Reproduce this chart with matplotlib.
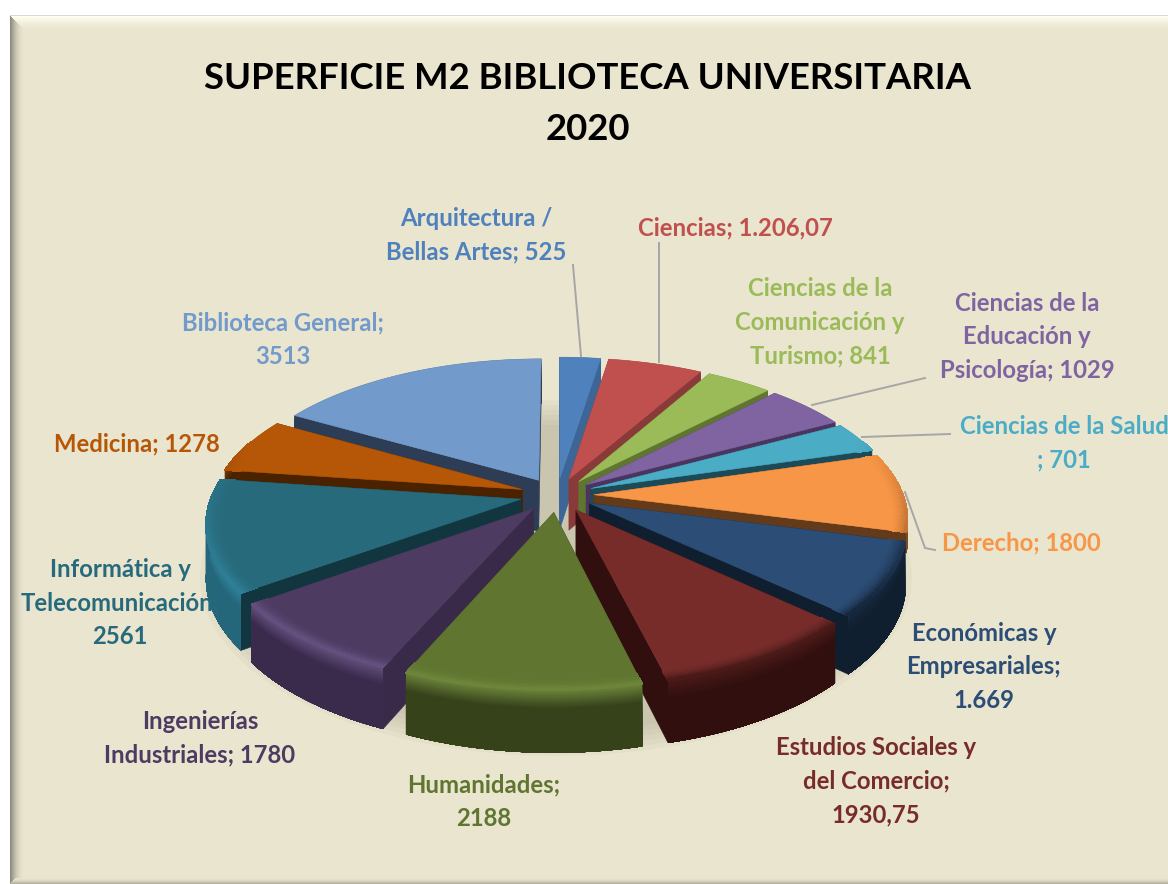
import numpy as np
import matplotlib
matplotlib.use('Agg')
import matplotlib.pyplot as plt
from matplotlib.collections import PolyCollection
from matplotlib.colors import to_rgb
from matplotlib.patches import Ellipse, Polygon

plt.rcParams['font.family'] = ['Lato', 'DejaVu Sans']

# Data
categories = ['Arquitectura', 'Ciencias', 'Comunicacion', 'Educacion', 'Salud', 'Derecho',
              'Economicas', 'Estudios', 'Humanidades', 'Ingenierias', 'Informatica',
              'Medicina', 'Biblioteca']
values = [525, 1206.07, 841, 1029, 701, 1800, 1669, 1930.75, 2188, 1780, 2561, 1278, 3513]
labels = ['Arquitectura /\nBellas Artes; 525', 'Ciencias; 1.206,07',
          'Ciencias de la\nComunicación y\nTurismo; 841',
          'Ciencias de la\nEducación y\nPsicología; 1029',
          'Ciencias de la Salud\n; 701', 'Derecho; 1800',
          'Económicas y\nEmpresariales;\n1.669',
          'Estudios Sociales y\ndel Comercio;\n1930,75', 'Humanidades;\n2188',
          'Ingenierías\nIndustriales; 1780', 'Informática y\nTelecomunicación;\n2561',
          'Medicina; 1278', 'Biblioteca General;\n3513']
title = 'SUPERFICIE M2 BIBLIOTECA UNIVERSITARIA\n2020'

# Colours: top face, radial wall, outer wall, rim
top_colors = ['#4F81BD', '#C0504D', '#9BBB59', '#8064A2', '#4BACC6', '#F79646', '#2C4D75',
              '#772C2A', '#5F7530', '#4D3B62', '#276A7C', '#B65708', '#729ACA']
radial_colors = ['#3D6596', '#8A3A38', '#5F7530', '#4A3560', '#1D4A57', '#633A1A', '#101F30',
                 '#300F0E', '#36421A', '#3A2A4A', '#123640', '#4B2200', '#2C3D55']
wall_colors = ['#3D6596', '#8A3A38', '#5F7530', '#4A3560', '#1D4A57', '#7A4A20', '#101F30',
               '#300F0E', '#36421A', '#3A2A4C', '#24667A', '#4B2200', '#2C3D55']
rim_colors = ['#3D6596', '#8A3A38', '#5F7530', '#4A3560', '#1D4A57', '#9C5A28', '#16283F',
              '#4A1A18', '#6D853B', '#64507E', '#2F8199', '#7A3C08', '#2C3D55']
text_colors = ['#4F81BD', '#C0504D', '#9BBB59', '#8064A2', '#4BACC6', '#F79646', '#2C4D75',
               '#772C2A', '#5F7530', '#4D3B62', '#276A7C', '#B65708', '#729ACA']
wall_depths = [52, 52, 52, 52, 52, 20, 52, 52, 52, 52, 52, 52, 52]
label_xy = [(476, 235), (735, 228), (820, 322), (1027, 337), (1064, 443), (1021, 543),
            (984, 667), (876, 781), (484, 802), (200, 738), (120, 603), (137, 444), (283, 340)]
leaders = [[(573, 265), (581, 356)], [(659, 243), (659, 362)], [(812, 405), (925, 378)],
           [(862, 437), (950, 434)], [(905, 492), (925, 548), (935, 550)]]

# Pie geometry, in pixels
W, H = 1168, 884
CX, CY = 557, 495
R, EXPLODE = 309, 37
TILT, F = 0.467, 2011
BEVEL = 16


def project(x, y, z=0):
    s = 1 / (1 + y / F)
    return CX + x * s, CY - TILT * y * s + z * s


def mix(c1, c2, t):
    return tuple(np.array(to_rgb(c1)) * (1 - t) + np.array(to_rgb(c2)) * t)


def point(theta, r, off, z=0):
    return project(r * np.sin(theta) + off[0], r * np.cos(theta) + off[1], z)


def draw_background(ax):
    img = np.ones((H, W, 3))
    base = np.array(to_rgb('#EAE5CF'))
    img[15:, 10:] = base
    for i in range(14):
        t = (1 - i / 14) ** 1.5
        img[16 + i, 10 + i:] = base * (1 - t) + np.array(to_rgb('#FFFEF0')) * t
    for i in range(14):
        t = (1 - i / 14) ** 2
        img[16 + i:, 10 + i] = base * (1 - t) + np.array(to_rgb('#8E8A7C')) * t
    for i in range(6):
        t = (1 - i / 6) ** 2
        img[H - 1 - i, 10 + i:] = base * (1 - t) + np.array(to_rgb('#B5B19F')) * t
    img[15, 10:] = to_rgb('#D9D9D9')
    ax.imshow(img, extent=(0, W, H, 0), aspect='auto', zorder=0, interpolation='nearest')


def draw_slice(ax, i, start, end, zorder):
    mid = (start + end) / 2
    depth = wall_depths[i]
    off = (EXPLODE * np.sin(mid), EXPLODE * np.cos(mid))
    thetas = np.linspace(start, end, max(int(np.degrees(end - start)), 2) + 1)
    apex = project(off[0], off[1])
    apex_low = project(off[0], off[1], depth)

    # radial walls
    for th in (start, end):
        quad = [apex, point(th, R, off), point(th, R, off, depth), apex_low]
        ax.add_patch(Polygon(quad, closed=True, fc=radial_colors[i], ec=radial_colors[i],
                             lw=0.4, zorder=zorder))

    # outer wall, each band painted over the last so there are no seams
    bands = 36
    for j in range(bands):
        z0 = depth * j / bands
        outline = [point(th, R, off, z0) for th in thetas]
        outline += [point(th, R, off, depth) for th in thetas[::-1]]
        col = mix(rim_colors[i], wall_colors[i], min(1, (j + 1) / 11))
        ax.add_patch(Polygon(outline, closed=True, fc=col, ec='none',
                             zorder=zorder + 0.1 + j * 0.001))

    # top face
    top = [apex] + [point(th, R, off) for th in thetas]
    ax.add_patch(Polygon(top, closed=True, fc=top_colors[i], ec=top_colors[i], lw=0.4,
                         zorder=zorder + 0.2))

    # rounded edge on the front half of the rim
    fine = np.linspace(start, end, 2 * len(thetas) - 1)
    quads, cols = [], []
    for a, b in zip(fine[:-1], fine[1:]):
        facing = np.clip(0.35 - np.cos((a + b) / 2), 0, 1)
        if facing <= 0:
            continue
        for j in range(8):
            r0, r1 = R - BEVEL * (1 - j / 8), R - BEVEL * (1 - (j + 1) / 8)
            quads.append([point(a, r0, off), point(b, r0, off),
                          point(b, r1, off), point(a, r1, off)])
            cols.append(mix(top_colors[i], rim_colors[i], facing * ((j + 1) / 8) ** 2))
    if quads:
        ax.add_collection(PolyCollection(quads, facecolors=cols, edgecolors=cols, linewidths=0.6,
                                         antialiaseds=False, zorder=zorder + 0.3))


def main():
    fig = plt.figure(figsize=(W / 100, H / 100), dpi=100)
    ax = fig.add_axes([0, 0, 1, 1])
    draw_background(ax)
    ax.set_xlim(0, W)
    ax.set_ylim(H, 0)
    ax.axis('off')

    # soft shadow under the pie
    for n in range(6):
        ax.add_patch(Ellipse((556, 578), 712 - 10 * n, 356 - 10 * n, fc='#6E6A55', ec='none',
                             alpha=0.045, zorder=1))

    fractions = np.array(values) / np.sum(values)
    edges = np.concatenate([[0], np.cumsum(fractions)]) * 2 * np.pi
    mids = (edges[:-1] + edges[1:]) / 2
    # back slices first
    for rank, i in enumerate(np.argsort(-np.cos(mids))):
        draw_slice(ax, i, edges[i], edges[i + 1], 2 + rank)

    for pts in leaders:
        xs, ys = zip(*pts)
        ax.plot(xs, ys, color='#A6A6A6', lw=1.4, zorder=30)

    ax.text(588, 104, title, ha='center', va='center', fontsize=26.3, fontweight='bold',
            color='black', linespacing=1.64, zorder=40)
    for text, xy, col in zip(labels, label_xy, text_colors):
        ax.text(xy[0], xy[1], text, ha='center', va='center', fontsize=17.2, fontweight='bold',
                color=col, linespacing=1.55, zorder=40)

    fig.savefig('out.png', dpi=100)


if __name__ == "__main__":
    main()
